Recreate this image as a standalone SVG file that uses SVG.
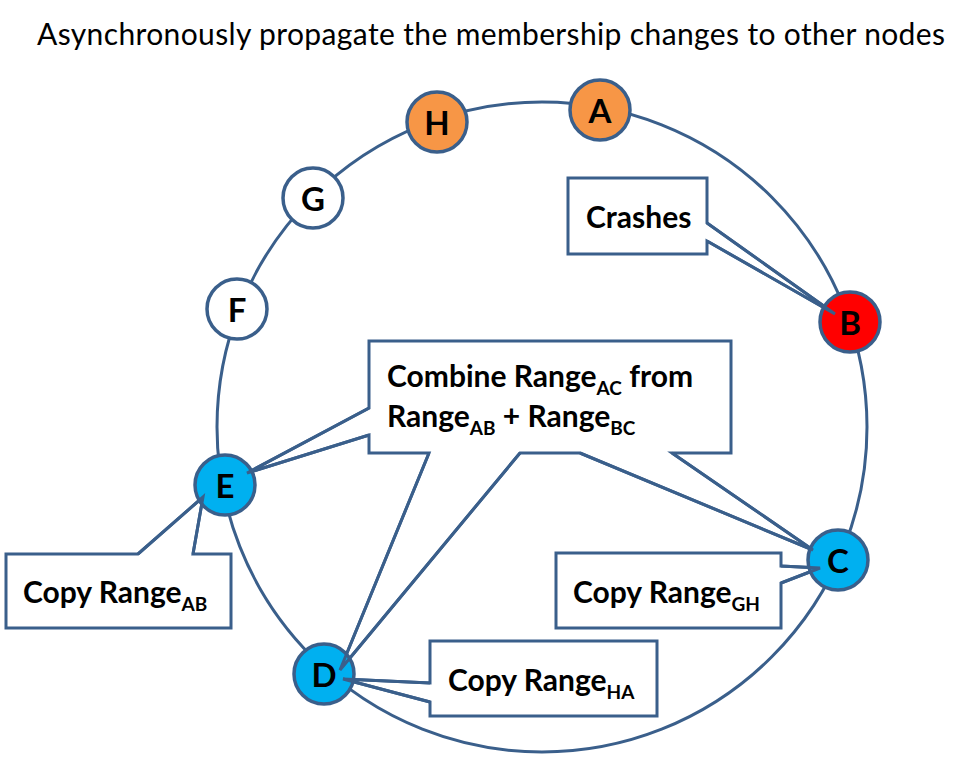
<svg xmlns="http://www.w3.org/2000/svg" width="974" height="757" viewBox="0 0 974 757">
<style>
.ln{fill:none;stroke:#3A5F8B;stroke-width:3;stroke-linejoin:miter}
.box{fill:#FFFFFF;stroke:#3A5F8B;stroke-width:3;stroke-linejoin:miter}
.nd{stroke:#3A5F8B;stroke-width:3.5}
.nl{font-family:Lato,"Liberation Sans",sans-serif;font-weight:bold;font-size:33px;fill:#000;text-anchor:middle}
.lb{font-family:Lato,"Liberation Sans",sans-serif;font-weight:bold;font-size:30px;fill:#000}
.sub{font-size:19px}
.title{font-family:Lato,"Liberation Sans",sans-serif;font-size:30px;fill:#000}
</style>
<rect width="974" height="757" fill="#FFFFFF"/>
<text class="title" x="37" y="45" textLength="908">Asynchronously propagate the membership changes to other nodes</text>
<g id="ring">
<circle class="ln" cx="542" cy="427" r="325"/>
</g>
<g id="callout-crashes">
<path class="box" d="M568,178 H707 V223 L835,314 L707,241 V254 H568 Z"/>
<text class="lb" x="586" y="228">Crashes</text>
</g>
<g id="callout-combine">
<path class="box" d="M369,341 H731 V453 H672 L813,550 L580,453 H520 L340,670 L429,453 H369 V435 L247,473 L369,408 Z"/>
<text class="lb" x="387" y="387">Combine Range<tspan class="sub" dy="8">AC</tspan><tspan dy="-8"> from</tspan></text>
<text class="lb" x="387" y="427">Range<tspan class="sub" dy="8">AB</tspan><tspan dy="-8"> + Range</tspan><tspan class="sub" dy="8">BC</tspan></text>
</g>
<g id="callout-ab">
<path class="box" d="M6,554 H138 L203,497 L193,554 H231 V628 H6 Z"/>
<text class="lb" x="23" y="603">Copy Range<tspan class="sub" dy="8">AB</tspan></text>
</g>
<g id="callout-gh">
<path class="box" d="M556,553 H781 V566 L820,568 L781,583 V628 H556 Z"/>
<text class="lb" x="573" y="603">Copy Range<tspan class="sub" dy="8">GH</tspan></text>
</g>
<g id="callout-ha">
<path class="box" d="M430,641 H657 V716 H430 V702 L343,679 L430,683 Z"/>
<text class="lb" x="448" y="691">Copy Range<tspan class="sub" dy="8">HA</tspan></text>
</g>
<g id="node-A"><circle class="nd" cx="600" cy="110" r="30" fill="#F79646"/><text class="nl" x="600" y="123">A</text></g>
<g id="node-H"><circle class="nd" cx="437" cy="122" r="30" fill="#F79646"/><text class="nl" x="437" y="135">H</text></g>
<g id="node-G"><circle class="nd" cx="313" cy="198" r="30" fill="#FFFFFF"/><text class="nl" x="313" y="211">G</text></g>
<g id="node-F"><circle class="nd" cx="237" cy="309" r="30" fill="#FFFFFF"/><text class="nl" x="237" y="322">F</text></g>
<g id="node-B"><circle class="nd" cx="850" cy="322" r="30" fill="#FF0000"/><text class="nl" x="850" y="335">B</text></g>
<g id="node-C"><circle class="nd" cx="838" cy="560" r="30" fill="#00B0F0"/><text class="nl" x="838" y="573">C</text></g>
<g id="node-D"><circle class="nd" cx="324" cy="674" r="30" fill="#00B0F0"/><text class="nl" x="324" y="687">D</text></g>
<g id="node-E"><circle class="nd" cx="225" cy="485" r="30" fill="#00B0F0"/><text class="nl" x="225" y="498">E</text></g>
<g id="connectors">
<polyline class="ln" points="707,223 835,314 707,241"/>
<polyline class="ln" points="369,408 247,473 369,435"/>
<polyline class="ln" points="520,453 340,670 429,453"/>
<polyline class="ln" points="672,453 813,550 580,453"/>
<polyline class="ln" points="138,554 203,497 193,554"/>
<polyline class="ln" points="781,566 820,568 781,583"/>
<polyline class="ln" points="430,683 343,679 430,702"/>
</g>
</svg>
